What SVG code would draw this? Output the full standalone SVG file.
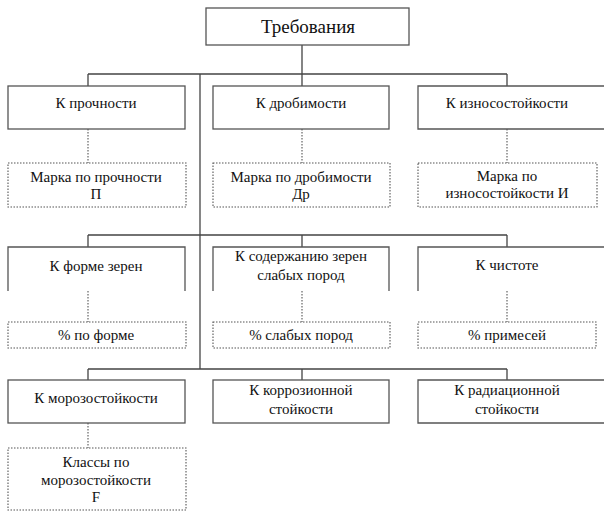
<svg xmlns="http://www.w3.org/2000/svg" width="604" height="516" viewBox="0 0 604 516">
<style>
  .box{fill:none;stroke:#555;stroke-width:1.3}
  .dbox{fill:none;stroke:#555;stroke-width:1.1;stroke-dasharray:1.5 1.5}
  .line{fill:none;stroke:#444;stroke-width:1.3}
  .dline{fill:none;stroke:#555;stroke-width:1.1;stroke-dasharray:1.5 1.5}
  text{font-family:"Liberation Serif","Times New Roman",serif;font-size:15px;fill:#111;text-anchor:middle}
  .title{font-size:19px}
</style>
<rect width="604" height="516" fill="#fff"/>
<g id="connectors">
  <path class="line" d="M302,45 V86 M88,74 H507 M88,74 V86 M507,74 V86"/>
  <path class="line" d="M200,74 V369"/>
  <path class="line" d="M88,235 H507 M88,235 V247 M302,235 V247 M507,235 V247"/>
  <path class="line" d="M88,369 H507 M88,369 V380 M302,369 V380 M507,369 V380"/>
  <path class="dline" d="M88,129 V163 M302,129 V163 M507,129 V163"/>
  <path class="dline" d="M88,291 V322 M302,291 V322 M507,291 V322"/>
  <path class="dline" d="M88,423 V448"/>
</g>
<g id="n-root">
  <rect class="box" x="206" y="8" width="203" height="37"/>
  <text class="title" x="308" y="33">Требования</text>
</g>
<g id="n-strength">
  <rect class="box" x="8" y="86" width="177" height="43"/>
  <text x="96" y="108">К прочности</text>
</g>
<g id="n-crush">
  <rect class="box" x="213" y="86" width="176" height="43"/>
  <text x="301" y="108">К дробимости</text>
</g>
<g id="n-wear">
  <path class="box" d="M604,86 H418 V129 H604"/>
  <text x="507" y="108">К износостойкости</text>
</g>
<g id="n-strength-grade">
  <rect class="dbox" x="8" y="163" width="178" height="44"/>
  <text x="96" y="182">Марка по прочности</text>
  <text x="96" y="199">П</text>
</g>
<g id="n-crush-grade">
  <rect class="dbox" x="213" y="163" width="177" height="44"/>
  <text x="301" y="182">Марка по дробимости</text>
  <text x="301" y="199">Др</text>
</g>
<g id="n-wear-grade">
  <rect class="dbox" x="418" y="163" width="179" height="44"/>
  <text x="507" y="181">Марка по</text>
  <text x="507" y="198">износостойкости И</text>
</g>
<g id="n-shape">
  <path class="box" d="M8,291 V247 H185 V291"/>
  <text x="96" y="271">К форме зерен</text>
</g>
<g id="n-weak">
  <path class="box" d="M213,291 V247 H389 V291"/>
  <text x="301" y="261">К содержанию зерен</text>
  <text x="301" y="280">слабых пород</text>
</g>
<g id="n-purity">
  <path class="box" d="M418,291 V247 H604"/>
  <text x="507" y="270">К чистоте</text>
</g>
<g id="n-shape-pct">
  <rect class="dbox" x="8" y="322" width="178" height="26"/>
  <text x="96" y="340">% по форме</text>
</g>
<g id="n-weak-pct">
  <rect class="dbox" x="213" y="322" width="177" height="26"/>
  <text x="301" y="340">% слабых пород</text>
</g>
<g id="n-purity-pct">
  <rect class="dbox" x="418" y="322" width="178" height="26"/>
  <text x="507" y="340">% примесей</text>
</g>
<g id="n-frost">
  <rect class="box" x="8" y="380" width="177" height="43"/>
  <text x="96" y="403">К морозостойкости</text>
</g>
<g id="n-corrosion">
  <rect class="box" x="213" y="380" width="176" height="43"/>
  <text x="301" y="395">К коррозионной</text>
  <text x="301" y="414">стойкости</text>
</g>
<g id="n-radiation">
  <path class="box" d="M604,380 H418 V423 H604"/>
  <text x="507" y="395">К радиационной</text>
  <text x="507" y="414">стойкости</text>
</g>
<g id="n-frost-class">
  <rect class="dbox" x="8" y="448" width="178" height="62"/>
  <text x="96" y="467">Классы по</text>
  <text x="96" y="485">морозостойкости</text>
  <text x="96" y="502">F</text>
</g>
</svg>
